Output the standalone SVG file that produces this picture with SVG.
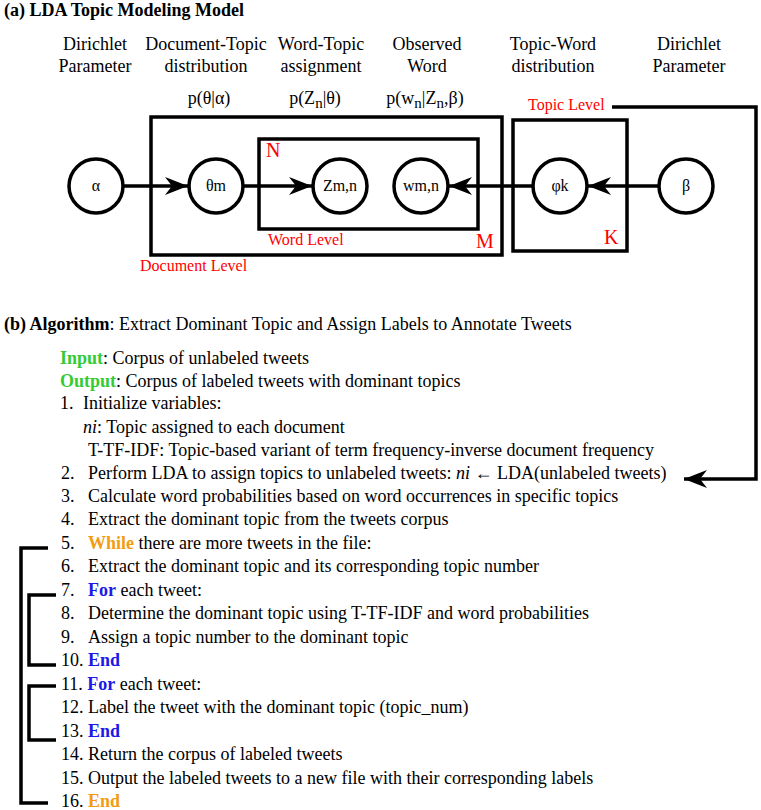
<svg xmlns="http://www.w3.org/2000/svg" width="761" height="810" viewBox="0 0 761 810" font-family="'Liberation Serif','Times New Roman',serif">
<style>
text{font-family:"Liberation Serif","Times New Roman",serif;fill:#000}
.h{font-size:18px;text-anchor:middle}
.t{font-size:18px}
.b{font-weight:bold}
.red{fill:#ff0000}
.lbl{font-size:16px}
.big{font-size:20px}
.nd{font-size:16px;text-anchor:middle}
.box{fill:none;stroke:#000;stroke-width:3.5}
.c{fill:#fff;stroke:#000;stroke-width:3.5}
.ln{fill:none;stroke:#000;stroke-width:3.5}
.g{fill:#33cc33}
.o{fill:#f39c12}
.bl{fill:#1a1ae6}
</style>
<defs>
<marker id="ah" markerUnits="userSpaceOnUse" markerWidth="30" markerHeight="24" refX="24" refY="10" orient="auto" viewBox="0 0 30 24">
<path d="M24,10 L1,1 L8,10 L1,19 Z" fill="#000"/>
</marker>
</defs>
<rect width="761" height="810" fill="#fff"/>
<text x="4" y="16" class="t b">(a) LDA Topic Modeling Model</text>
<g id="headers">
<text class="h" x="95" y="50">Dirichlet</text><text class="h" x="95" y="72">Parameter</text>
<text class="h" x="206" y="50">Document-Topic</text><text class="h" x="206" y="72">distribution</text>
<text class="h" x="321" y="50">Word-Topic</text><text class="h" x="321" y="72">assignment</text>
<text class="h" x="427" y="50">Observed</text><text class="h" x="427" y="72">Word</text>
<text class="h" x="553" y="50">Topic-Word</text><text class="h" x="553" y="72">distribution</text>
<text class="h" x="689" y="50">Dirichlet</text><text class="h" x="689" y="72">Parameter</text>
<text class="h" x="209" y="104">p(θ|α)</text>
<text class="h" x="315" y="104">p(Z<tspan dy="4" font-size="15">n</tspan><tspan dy="-4">|θ)</tspan></text>
<text class="h" x="425" y="104">p(w<tspan dy="4" font-size="15">n</tspan><tspan dy="-4">|Z</tspan><tspan dy="4" font-size="15">n</tspan><tspan dy="-4">,β)</tspan></text>
</g>
<g id="plates">
<rect class="box" x="151" y="117" width="351" height="138"/>
<rect class="box" x="259" y="139" width="219" height="90"/>
<rect class="box" x="513" y="120" width="114" height="131"/>
<text class="big red" x="266" y="157">N</text>
<text class="lbl red" x="268" y="245">Word Level</text>
<text class="lbl red" x="140" y="271">Document Level</text>
<text class="big red" x="476" y="248">M</text>
<text class="big red" x="604" y="244">K</text>
<text class="lbl red" x="528" y="110">Topic Level</text>
</g>
<g id="connectors">
<line class="ln" x1="123" y1="186" x2="188" y2="186" marker-end="url(#ah)"/>
<line class="ln" x1="244" y1="186" x2="312" y2="186" marker-end="url(#ah)"/>
<line class="ln" x1="532" y1="186" x2="449" y2="186" marker-end="url(#ah)"/>
<line class="ln" x1="658" y1="186" x2="588" y2="186" marker-end="url(#ah)"/>
<polyline class="ln" points="612,107 756,107 756,479 684,479" marker-end="url(#ah)"/>
<polyline class="ln" points="48,548 21,548 21,803 48,803"/>
<polyline class="ln" points="56,595 29,595 29,665 56,665"/>
<polyline class="ln" points="56,686 29,686 29,740 56,740"/>
</g>
<g id="n-alpha"><circle class="c" cx="96" cy="186" r="27"/><text class="nd" x="96" y="191">α</text></g>
<g id="n-theta"><circle class="c" cx="216" cy="186" r="27"/><text class="nd" x="216" y="191">θm</text></g>
<g id="n-z"><circle class="c" cx="340" cy="186" r="27"/><text class="nd" x="340" y="191">Zm,n</text></g>
<g id="n-w"><circle class="c" cx="421" cy="186" r="27"/><text class="nd" x="421" y="191">wm,n</text></g>
<g id="n-phi"><circle class="c" cx="560" cy="186" r="27"/><text class="nd" x="560" y="191">φk</text></g>
<g id="n-beta"><circle class="c" cx="686" cy="186" r="27"/><text class="nd" x="686" y="191">β</text></g>
<g id="algorithm" class="t">
<text x="4" y="330"><tspan class="b">(b) Algorithm</tspan>: Extract Dominant Topic and Assign Labels to Annotate Tweets</text>
<text x="60" y="364"><tspan class="b g">Input</tspan>: Corpus of unlabeled tweets</text>
<text x="60" y="387"><tspan class="b g">Output</tspan>: Corpus of labeled tweets with dominant topics</text>
<text x="60" y="409">1.</text><text x="83" y="409">Initialize variables:</text>
<text x="83" y="433"><tspan font-style="italic">ni</tspan>: Topic assigned to each document</text>
<text x="88" y="456">T-TF-IDF: Topic-based variant of term frequency-inverse document frequency</text>
<text x="61" y="479">2.</text><text x="88" y="479">Perform LDA to assign topics to unlabeled tweets: <tspan font-style="italic">ni</tspan> ← LDA(unlabeled tweets)</text>
<text x="61" y="502">3.</text><text x="88" y="502">Calculate word probabilities based on word occurrences in specific topics</text>
<text x="61" y="525">4.</text><text x="88" y="525">Extract the dominant topic from the tweets corpus</text>
<text x="61" y="549">5.</text><text x="88" y="549"><tspan class="b o">While</tspan> there are more tweets in the file:</text>
<text x="61" y="572">6.</text><text x="88" y="572">Extract the dominant topic and its corresponding topic number</text>
<text x="61" y="596">7.</text><text x="88" y="596"><tspan class="b bl">For</tspan> each tweet:</text>
<text x="61" y="619">8.</text><text x="88" y="619">Determine the dominant topic using T-TF-IDF and word probabilities</text>
<text x="61" y="643">9.</text><text x="88" y="643">Assign a topic number to the dominant topic</text>
<text x="61" y="666">10. <tspan class="b bl">End</tspan></text>
<text x="61" y="690">11. <tspan class="b bl">For</tspan> each tweet:</text>
<text x="61" y="713">12. Label the tweet with the dominant topic (topic_num)</text>
<text x="61" y="737">13. <tspan class="b bl">End</tspan></text>
<text x="61" y="760">14. Return the corpus of labeled tweets</text>
<text x="61" y="784">15. Output the labeled tweets to a new file with their corresponding labels</text>
<text x="61" y="807">16. <tspan class="b o">End</tspan></text>
</g>
</svg>
